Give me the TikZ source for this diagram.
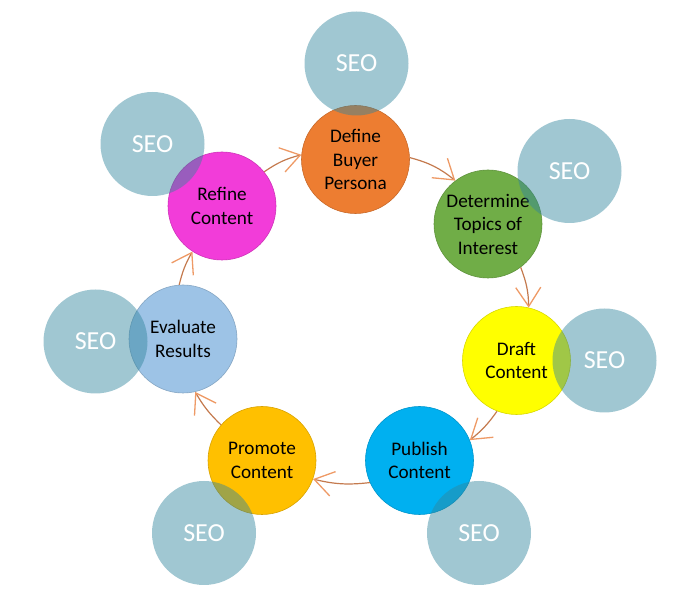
\documentclass[tikz,border=0pt]{standalone}
\usepackage{fontspec}
\setmainfont{Carlito}
\usetikzlibrary{arrows.meta}
\definecolor{seoc}{HTML}{31859C}
\definecolor{defc}{HTML}{ED7D31}
\definecolor{detc}{HTML}{70AD47}
\definecolor{drac}{HTML}{FFFF00}
\definecolor{pubc}{HTML}{00B0F0}
\definecolor{proc}{HTML}{FFC000}
\definecolor{evac}{HTML}{9DC3E6}
\definecolor{refc}{HTML}{F23CD9}
\definecolor{linec}{HTML}{C47A4E}
\definecolor{tipc}{HTML}{EE9A66}
\begin{document}
\begin{tikzpicture}[x=1pt,y=-1pt,
  main/.style={circle,minimum size=108pt,inner sep=0pt,align=center,
    fill=#1,draw=#1!85!black,line width=0.6pt,
    font=\fontsize{19.2}{23.5}\selectfont,text=black},
  seo/.style={circle,minimum size=104pt,inner sep=0pt,fill=seoc,
    fill opacity=0.46,text opacity=1,text=white,
    font=\fontsize{26}{30}\selectfont},
  flow/.style={draw=linec,line width=1.2pt,
    -{Straight Barb[length=19pt,width=25pt,line width=1.3pt,color=tipc]}}]
\useasboundingbox (0,0) rectangle (681,609);

\node[main=defc] (def) at (355.5,159.5) {Define\\Buyer\\Persona};
\node[main=detc] (det) at (488,224) {Determine\\Topics of\\Interest};
\node[main=drac] (dra) at (516.5,360.5) {Draft\\Content};
\node[main=pubc] (pub) at (419.5,460.5) {Publish\\Content};
\node[main=proc] (pro) at (262,460.5) {Promote\\Content};
\node[main=evac] (eva) at (183,339) {Evaluate\\Results};
\node[main=refc] (ref) at (222,206) {Refine\\Content};

\draw[flow] (ref.39) to[bend left=10] (def.175);
\draw[flow] (def.2) to[bend left=12] (det.127);
\draw[flow] (det.-53) to[bend left=10] (dra.77);
\draw[flow] (dra.-111) to[bend left=8] (pub.22);
\draw[flow] (pub.-156) to[bend left=10] (pro.-20);
\draw[flow] (pro.139) to[bend left=8] (eva.-77);
\draw[flow] (eva.94) to[bend left=8] (ref.-123);

\node[seo] (s1) at (356.5,63.5) {SEO};
\node[seo] (s2) at (569.5,171) {SEO};
\node[seo] (s3) at (604.5,360.5) {SEO};
\node[seo] (s4) at (479,533) {SEO};
\node[seo] (s5) at (204,533) {SEO};
\node[seo] (s6) at (95.5,341.5) {SEO};
\node[seo] (s7) at (152.5,144) {SEO};
\end{tikzpicture}
\end{document}
